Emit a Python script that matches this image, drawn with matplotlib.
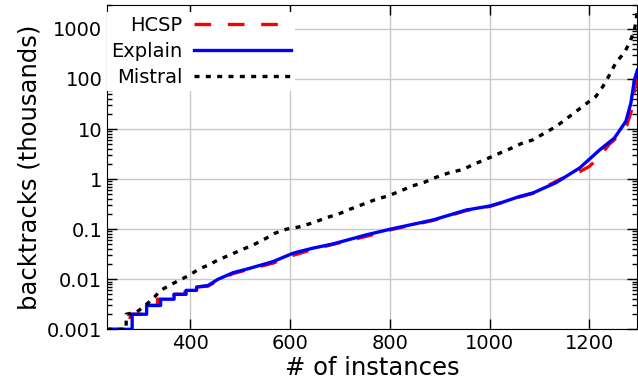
import matplotlib.pyplot as plt
import matplotlib.ticker as ticker

# значения
explain_x = [234, 284, 284, 313, 313, 341, 341, 368, 368, 392, 392, 413, 413, 436, 456, 486, 520,
             566, 606, 620, 647, 687, 753, 801, 887, 953, 1000, 1020, 1060, 1087, 1133, 1180, 1200,
             1220, 1250, 1273, 1283, 1290, 1296]
explain_y = [0.001, 0.001, 0.002, 0.002, 0.003, 0.003, 0.004, 0.004, 0.005, 0.005, 0.006, 0.006,
             0.007, 0.0075, 0.01, 0.0135, 0.0166, 0.0225, 0.033, 0.036, 0.042, 0.051, 0.077, 0.1,
             0.153, 0.241, 0.29, 0.33, 0.45, 0.53, 0.85, 1.66, 2.5, 3.8, 6.6, 14.3, 33, 95, 150]

hcsp_x = [234, 280, 280, 313, 313, 335, 335, 368, 368, 390, 390, 413, 413, 436, 456, 486, 520,
          566, 606, 620, 647, 687, 753, 801, 887, 953, 1000, 1020, 1060, 1087, 1140, 1163, 1180,
          1200, 1220, 1240, 1266, 1275, 1285, 1292, 1296]
hcsp_y = [0.001, 0.001, 0.002, 0.002, 0.003, 0.003, 0.004, 0.004, 0.005, 0.005, 0.006, 0.006,
          0.007, 0.0073, 0.0095, 0.013, 0.016, 0.021, 0.03, 0.033, 0.04, 0.05, 0.072, 0.097,
          0.15, 0.235, 0.285, 0.33, 0.44, 0.52, 0.98, 1.2, 1.4, 1.8, 2.8, 5.0, 8.5, 12, 25, 80, 180]

mistral_x = [234, 272, 272, 293, 310, 327, 340, 357, 377, 397, 417, 437, 457, 480, 503, 527, 547,
             570, 593, 620, 647, 673, 697, 720, 747, 770, 797, 820, 843, 870, 893, 920, 947, 967,
             993, 1017, 1040, 1063, 1087, 1110, 1133, 1153, 1173, 1193, 1213, 1227, 1240, 1253,
             1270, 1280, 1290, 1296]
mistral_y = [0.001, 0.001, 0.002, 0.0022, 0.003, 0.0042, 0.0059, 0.0074, 0.0094, 0.0118, 0.0158,
             0.0193, 0.0245, 0.0307, 0.0387, 0.0488, 0.0614, 0.083, 0.1, 0.112, 0.135, 0.17, 0.2,
             0.25, 0.316, 0.386, 0.465, 0.57, 0.72, 0.87, 1.09, 1.35, 1.56, 1.96, 2.5, 3.2, 4.0,
             5.1, 6.1, 8.3, 11.2, 15.8, 22.4, 31.8, 45, 71, 120, 212, 337, 520, 930, 2200]

y_ticks = [0.001, 0.01, 0.1, 1, 10, 100, 1000]
y_labels = ['0.001', '0.01', '0.1', '1', '10', '100', '1000']
x_ticks = [400, 600, 800, 1000, 1200]

fig = plt.figure(figsize=(6.38, 3.87), dpi=100)
ax = fig.add_axes([0.168, 0.149, 0.831, 0.838])

ax.plot(hcsp_x, hcsp_y, color='red', lw=2.4, dashes=(5, 5), label='HCSP')
ax.plot(explain_x, explain_y, color='blue', lw=2.4, label='Explain')
ax.plot(mistral_x, mistral_y, color='black', lw=2.4, dashes=(1.5, 1.9), label='Mistral')

ax.set_yscale('log')
ax.set_xlim(234, 1296)
ax.set_ylim(0.001, 3000)
ax.yaxis.set_major_locator(ticker.FixedLocator(y_ticks))
ax.yaxis.set_major_formatter(ticker.FixedFormatter(y_labels))
ax.yaxis.set_minor_locator(ticker.LogLocator(base=10, subs=range(2, 10), numticks=20))
ax.yaxis.set_minor_formatter(ticker.NullFormatter())
ax.xaxis.set_major_locator(ticker.FixedLocator(x_ticks))

ax.tick_params(which='both', direction='in', top=True, right=True, labelsize=14)
ax.tick_params(which='major', length=7, width=1)
ax.tick_params(which='minor', length=3.5, width=1)
ax.grid(True, which='major', color='#c8c8c8', lw=1)

ax.set_xlabel('# of instances', fontsize=17.5, labelpad=2)
ax.set_ylabel('backtracks (thousands)', fontsize=17.5, labelpad=4)

leg = ax.legend(loc='upper left', bbox_to_anchor=(0, 0.978), fontsize=14, markerfirst=False,
                handlelength=5.0, borderaxespad=0, borderpad=0.2, fancybox=False, framealpha=1,
                edgecolor='none', labelspacing=0.35, handletextpad=0.6)

fig.savefig('out.png', dpi=100)
